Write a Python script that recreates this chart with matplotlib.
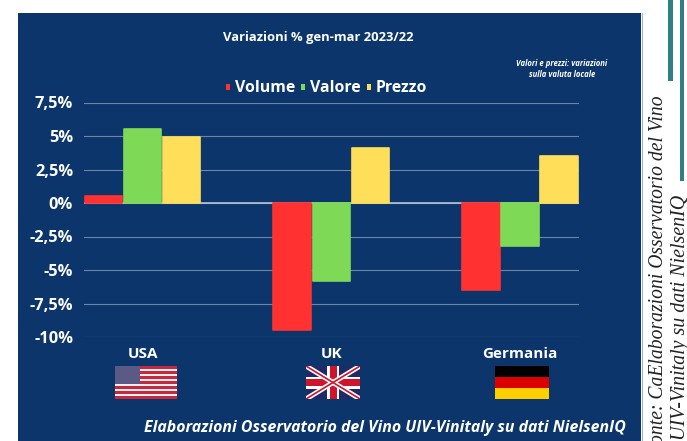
import numpy as np
import matplotlib
matplotlib.use('Agg')
import matplotlib.pyplot as plt
from matplotlib.patches import Rectangle, Patch

W, H = 687, 441
NAVY = '#0b356b'

categorie = ['USA', 'UK', 'Germania']
serie = ['Volume', 'Valore', 'Prezzo']
volume = [0.5, -9.5, -6.5]
valore = [5.5, -5.8, -3.2]
prezzo = [4.9, 4.1, 3.5]
colori = ['#ff3131', '#7ed957', '#ffde59']
tick_y = [7.5, 5, 2.5, 0, -2.5, -5, -7.5, -10]
tick_lab = ['7,5%', '5%', '2,5%', '0%', '-2,5%', '-5%', '-7,5%', '-10%']

plt.rcParams['font.family'] = ['Open Sans', 'DejaVu Sans']

fig = plt.figure(figsize=(W / 100, H / 100), dpi=100, facecolor='white')

# sfondo e decorazioni in pixel
bg = fig.add_axes([0, 0, 1, 1])
bg.set_xlim(0, W)
bg.set_ylim(H, 0)
bg.axis('off')
bg.add_patch(Rectangle((18, 13), 623, 428, fc=NAVY, ec='none'))
bg.plot([641.5, 641.5], [13, 441], color='#9db4d0', lw=0.8)
bg.add_patch(Rectangle((668, 0), 4.5, 81, fc='#2f7f84', ec='none'))
bg.add_patch(Rectangle((679.5, 0), 4.5, 181, fc='#2f7f84', ec='none'))

# grafico
ax = fig.add_axes([83.5 / W, 1 - 337 / H, 495 / W, (337 - 102.5) / H])
ax.set_facecolor('none')
x = np.arange(len(categorie))
w = 0.207
for i, (vals, col) in enumerate(zip([volume, valore, prezzo], colori)):
    ax.bar(x + (i - 1) * w, vals, w * 0.96, color=col, edgecolor=col, lw=1.2,
           joinstyle='round', zorder=3)
ax.set_xlim(-0.313, 2.31)
ax.set_ylim(-10, 7.5)
ax.set_yticks(tick_y)
ax.set_yticklabels(tick_lab, color='white', fontsize=11.8, fontweight='bold')
ax.tick_params(axis='y', length=0, pad=7.5)
ax.tick_params(axis='x', length=0, pad=7.5)
ax.set_xticks(x)
ax.set_xticklabels(categorie, color='white', fontsize=11, fontweight='bold')
ax.grid(axis='y', color='#6d86a8', lw=0.8, zorder=0)
ax.axhline(0, color='#b9c4d2', lw=1.2, zorder=2)
for s in ax.spines.values():
    s.set_visible(False)

maniglie = [Patch(fc=c, ec='none') for c in colori]
ax.legend(maniglie, serie, loc='center', bbox_to_anchor=(326.5 / W, 1 - 88.5 / H),
          bbox_transform=fig.transFigure, ncol=3, frameon=False,
          handlelength=0.25, handleheight=0.25, handletextpad=0.3,
          columnspacing=0.4, prop={'size': 11.4, 'weight': 'bold'},
          labelcolor='white')

bg.text(318, 37, 'Variazioni % gen-mar 2023/22', color='white', fontsize=9.4,
        fontweight='bold', ha='center', va='center')
bg.text(562, 69, 'Valori e prezzi: variazioni\nsulla valuta locale', color='white',
        fontsize=5.6, fontweight='bold', style='italic', ha='center', va='center',
        linespacing=1.3)
bg.text(385, 428, 'Elaborazioni Osservatorio del Vino UIV-Vinitaly su dati NielsenIQ',
        color='white', fontsize=11.4, fontweight='bold', style='italic',
        ha='center', va='center')

# testo laterale
bg.text(659, 95, 'Fonte: CaElaborazioni Osservatorio del Vino', rotation=90, color='#222222',
        family='Liberation Serif', style='italic', fontsize=14.1, ha='center', va='top')
bg.text(681, 195, 'UIV-Vinitaly su dati NielsenIQ', rotation=90, color='#222222',
        family='Liberation Serif', style='italic', fontsize=14.4, ha='center', va='top')

# bandiera USA
x0, y0, fw, fh = 115, 366, 62, 33
for k in range(13):
    bg.add_patch(Rectangle((x0, y0 + k * fh / 13), fw, fh / 13,
                           fc='#c8283e' if k % 2 == 0 else '#f4f0f0', ec='none'))
bg.add_patch(Rectangle((x0, y0), 25, fh * 7 / 13, fc='#5b5a86', ec='none'))

# bandiera UK
x0, y0, fw, fh = 306, 366, 54, 33
bg.add_patch(Rectangle((x0, y0), fw, fh, fc='#1f2a66', ec='none'))
diag = [([x0, x0 + fw], [y0, y0 + fh]), ([x0, x0 + fw], [y0 + fh, y0])]
for dx, dy in diag:
    bg.plot(dx, dy, color='white', lw=3.6, solid_capstyle='butt')
for dx, dy in diag:
    bg.plot(dx, dy, color='#cf142b', lw=1.2, solid_capstyle='butt')
bg.add_patch(Rectangle((x0 + fw / 2 - 6, y0), 12, fh, fc='white', ec='none'))
bg.add_patch(Rectangle((x0, y0 + fh / 2 - 6), fw, 12, fc='white', ec='none'))
bg.add_patch(Rectangle((x0 + fw / 2 - 3.5, y0), 7, fh, fc='#cf142b', ec='none'))
bg.add_patch(Rectangle((x0, y0 + fh / 2 - 3.5), fw, 7, fc='#cf142b', ec='none'))
# ritaglio delle diagonali sul rettangolo della bandiera
clip = Rectangle((x0, y0), fw, fh, transform=bg.transData)
for ln in bg.lines[-4:]:
    ln.set_clip_path(clip)

# bandiera Germania
x0, y0, fw, fh = 495, 366, 54, 33
for k, c in enumerate(['#000000', '#dd0000', '#ffce00']):
    bg.add_patch(Rectangle((x0, y0 + k * fh / 3), fw, fh / 3, fc=c, ec='none'))

fig.savefig('out.png', dpi=100)
